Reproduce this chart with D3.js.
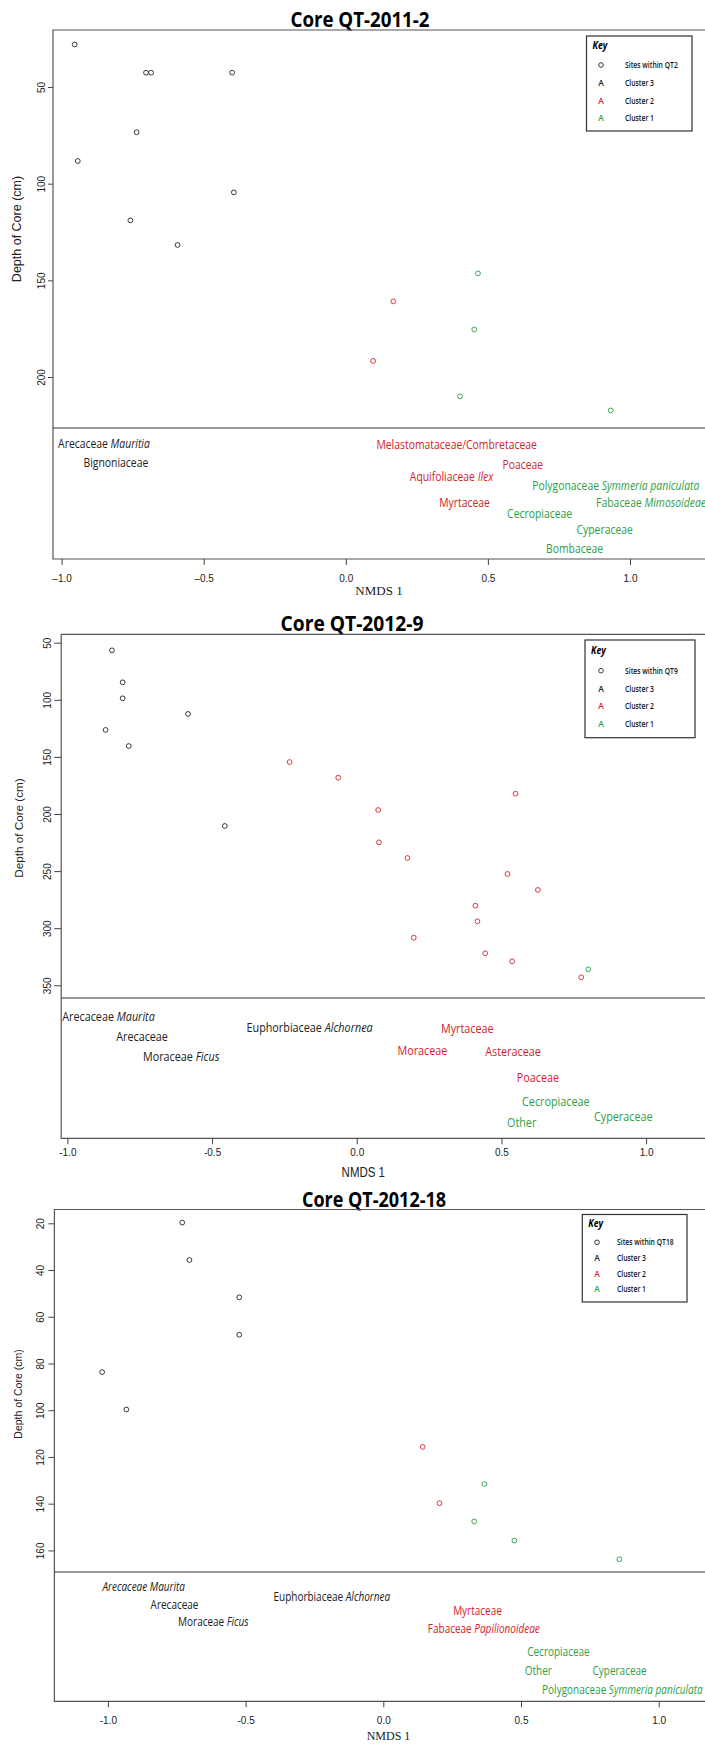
<!DOCTYPE html>
<html>
<head>
<meta charset="utf-8">
<script src="https://cdn.jsdelivr.net/npm/d3@7"></script>
<style>
  body { margin: 0; background: #fff; }
  svg { display: block; }
</style>
</head>
<body>
<script>
'use strict';

// ---- data ----
const coreTitles = ["Core QT-2011-2", "Core QT-2012-9", "Core QT-2012-18"];
const nmdsTicks = [-1, -0.5, 0, 0.5, 1];

// sites: [NMDS 1, depth (cm), cluster]
const qt2Sites = [
  [-0.954, 28.0, 3], [-0.703, 42.6, 3], [-0.685, 42.6, 3], [-0.400, 42.6, 3],
  [-0.736, 73.4, 3], [-0.943, 88.3, 3], [-0.394, 104.5, 3], [-0.758, 119.0, 3],
  [-0.592, 131.7, 3], [0.465, 146.4, 1], [0.167, 160.9, 2], [0.452, 175.4, 1],
  [0.096, 191.7, 2], [0.402, 210.0, 1], [0.932, 217.3, 1]
];
const qt9Sites = [
  [-0.846, 56.7, 3], [-0.809, 84.7, 3], [-0.809, 98.7, 3], [-0.583, 112.4, 3],
  [-0.868, 126.4, 3], [-0.788, 140.5, 3], [-0.456, 210.5, 3],
  [-0.232, 154.5, 2], [-0.064, 168.2, 2], [0.549, 182.2, 2], [0.074, 196.5, 2],
  [0.077, 224.8, 2], [0.175, 238.5, 2], [0.521, 252.5, 2], [0.626, 266.5, 2],
  [0.410, 280.3, 2], [0.417, 294.0, 2], [0.197, 308.3, 2], [0.444, 322.0, 2],
  [0.537, 329.0, 2], [0.800, 336.0, 1], [0.776, 343.0, 2]
];
const qt18Sites = [
  [-0.730, 19.7, 3], [-0.704, 35.7, 3], [-0.523, 51.7, 3], [-0.523, 67.7, 3],
  [-1.021, 83.7, 3], [-0.933, 99.7, 3], [0.143, 115.7, 2], [0.367, 131.6, 1],
  [0.204, 139.8, 2], [0.330, 147.6, 1], [0.476, 155.8, 1], [0.857, 163.8, 1]
];

// taxa: [family, italic genus, NMDS 1, depth position, cluster]
const qt2Taxa = [
  ["Arecaceae ", "Mauritia", -0.851, 234.3, 3],
  ["Bignoniaceae", "", -0.809, 244.2, 3],
  ["Melastomataceae/Combretaceae", "", 0.390, 234.7, 2],
  ["Poaceae", "", 0.623, 245.0, 2],
  ["Aquifoliaceae ", "Ilex", 0.372, 251.6, 2],
  ["Myrtaceae", "", 0.418, 265.0, 2],
  ["Polygonaceae ", "Symmeria paniculata", 0.950, 255.9, 1],
  ["Fabaceae ", "Mimosoideae", 1.074, 265.0, 1],
  ["Cecropiaceae", "", 0.682, 270.5, 1],
  ["Cyperaceae", "", 0.911, 278.7, 1],
  ["Bombaceae", "", 0.805, 288.5, 1]
];
const qt9Taxa = [
  ["Arecaceae  ", "Maurita", -0.858, 376.6, 3],
  ["Arecaceae", "", -0.742, 394.4, 3],
  ["Moraceae ", "Ficus", -0.607, 411.9, 3],
  ["Euphorbiaceae ", "Alchornea", -0.163, 386.8, 3],
  ["Myrtaceae", "", 0.382, 387.7, 2],
  ["Moraceae", "", 0.227, 406.9, 2],
  ["Asteraceae", "", 0.540, 407.8, 2],
  ["Poaceae", "", 0.626, 430.0, 2],
  ["Cecropiaceae", "", 0.688, 451.0, 1],
  ["Cyperaceae", "", 0.921, 464.4, 1],
  ["Other", "", 0.570, 470.0, 1]
];
const qt18Taxa = [
  ["", "Arecaceae Maurita", -0.870, 175.5, 3],
  ["Arecaceae", "", -0.758, 183.0, 3],
  ["Moraceae ", "Ficus", -0.617, 190.5, 3],
  ["Euphorbiaceae ", "Alchornea", -0.187, 179.9, 3],
  ["Myrtaceae", "", 0.342, 185.9, 2],
  ["Fabaceae ", "Papilionoideae", 0.365, 193.4, 2],
  ["Cecropiaceae", "", 0.636, 203.3, 1],
  ["Other", "", 0.563, 211.2, 1],
  ["Cyperaceae", "", 0.858, 211.2, 1],
  ["Polygonaceae ", "Symmeria paniculata", 0.868, 219.6, 1]
];

const qt2DepthTicks = [50, 100, 150, 200];
const qt9DepthTicks = [50, 100, 150, 200, 250, 300, 350];
const qt18DepthTicks = [20, 40, 60, 80, 100, 120, 140, 160];

const qt2Key = ["Sites within QT2", "Cluster 3", "Cluster 2", "Cluster 1"];
const qt9Key = ["Sites within QT9", "Cluster 3", "Cluster 2", "Cluster 1"];
const qt18Key = ["Sites within QT18", "Cluster 3", "Cluster 2", "Cluster 1"];

(function() {

  const SANS = "'Liberation Sans', Arial, sans-serif";
  const SERIF = "'Liberation Serif', 'Times New Roman', serif";
  const HUMAN = "'Open Sans', 'Noto Sans', sans-serif";
  const clusterColor = {1: "#2f9e46", 2: "#d5222b", 3: "#222222"};
  const RIGHT = 720; // frame runs off the right side of the page

  // page layout of each of the three panels
  const layouts = [
    {
      xRange: [61.6, 630], yDomain: [50, 200], yRange: [87, 377],
      left: 53, top: 30, bottom: 559, divider: 428,
      title: {x: 360, y: 27, w: 139},
      yTick: 5, yLab: 8, yFont: 9,
      xFont: {family: SERIF, size: 11, dy: 23, minus: "\u2013"},
      xTitle: {x: 379, y: 595, family: SERIF, size: 13, sx: 1},
      yTitle: {x: 21, y: 229, size: 12.5},
      labelSize: 13,
      key: {x: 586.5, y: 36, w: 105.5, h: 95, keyY: 45.5, rows: [65, 83, 100.5, 117.5], sym: 601, lab: 625}
    },
    {
      xRange: [67.4, 646.1], yDomain: [50, 350], yRange: [642.7, 985.3],
      left: 61.2, top: 634.3, bottom: 1138.3, divider: 998,
      title: {x: 352, y: 631, w: 143},
      yTick: 7, yLab: 10, yFont: 9,
      xFont: {family: SANS, size: 9, dy: 17.5, minus: "-"},
      xTitle: {x: 363.3, y: 1177, family: SANS, size: 14, sx: 0.82},
      yTitle: {x: 23, y: 828, size: 11.7},
      labelSize: 13.5,
      key: {x: 585, y: 640, w: 110, h: 97.7, keyY: 650, rows: [670.7, 688.7, 706.3, 724.3], sym: 601, lab: 625}
    },
    {
      xRange: [107.9, 658.7], yDomain: [20, 160], yRange: [1223.3, 1550.4],
      left: 54.4, top: 1209.5, bottom: 1701.3, divider: 1572,
      title: {x: 374, y: 1207, w: 144},
      yTick: 6, yLab: 10, yFont: 10,
      xFont: {family: SANS, size: 10.5, dy: 22.5, minus: "-"},
      xTitle: {x: 388.5, y: 1740, family: SERIF, size: 12, sx: 1},
      yTitle: {x: 21.5, y: 1394, size: 10.5},
      labelSize: 12.5,
      key: {x: 582.3, y: 1214.5, w: 104.7, h: 87.5, keyY: 1223.5, rows: [1242.3, 1258, 1273.7, 1289.3], sym: 597, lab: 617}
    }
  ];

  window.onload = function() {
    let svg = d3.select('body')
      .append('svg')
      .attr('width', 705)
      .attr('height', 1744);

    drawPanel(svg, layouts[0], coreTitles[0], qt2Sites, qt2Taxa, qt2DepthTicks, qt2Key);
    drawPanel(svg, layouts[1], coreTitles[1], qt9Sites, qt9Taxa, qt9DepthTicks, qt9Key);
    drawPanel(svg, layouts[2], coreTitles[2], qt18Sites, qt18Taxa, qt18DepthTicks, qt18Key);
  };

  // one NMDS vs depth panel with its taxa labels underneath
  function drawPanel(svg, L, title, sites, taxa, depthTicks, keyLabels) {
    let g = svg.append('g');
    let x = d3.scaleLinear().domain([-1, 1]).range(L.xRange);
    let y = d3.scaleLinear().domain(L.yDomain).range(L.yRange);

    // title
    g.append('text')
      .attr('x', L.title.x)
      .attr('y', L.title.y)
      .attr('text-anchor', 'middle')
      .attr('font-family', HUMAN)
      .attr('font-weight', 700)
      .attr('font-size', 21)
      .attr('textLength', L.title.w)
      .attr('lengthAdjust', 'spacingAndGlyphs')
      .text(title);

    // frame (top, left, bottom) and the divider above the taxa
    g.append('path')
      .attr('d', `M${RIGHT},${L.top}H${L.left}V${L.bottom}H${RIGHT}`)
      .attr('fill', 'none')
      .attr('stroke', '#555')
      .attr('stroke-width', 1.2);

    g.append('line')
      .attr('x1', L.left).attr('x2', RIGHT)
      .attr('y1', L.divider).attr('y2', L.divider)
      .attr('stroke', '#333')
      .attr('stroke-width', 1.2);

    // depth axis, labels turned like R does
    let yAxis = d3.axisLeft(y).tickValues(depthTicks).tickSize(L.yTick);
    let ya = g.append('g')
      .attr('transform', `translate(${L.left},0)`)
      .attr('font-family', SANS)
      .attr('font-size', L.yFont)
      .call(yAxis);
    ya.select('.domain').remove();
    ya.selectAll('line').attr('stroke', '#444');
    ya.selectAll('text')
      .attr('x', 0)
      .attr('dy', 0)
      .attr('fill', '#222')
      .attr('text-anchor', 'middle')
      .attr('transform', `translate(${-L.yLab},0) rotate(-90)`);

    // NMDS axis
    let fmt = d3.format(".1f");
    let xAxis = d3.axisBottom(x)
      .tickValues(nmdsTicks)
      .tickSize(6)
      .tickFormat(d => fmt(d).replace("\u2212", L.xFont.minus).replace("-", L.xFont.minus));
    let xa = g.append('g')
      .attr('transform', `translate(0,${L.bottom})`)
      .attr('font-family', L.xFont.family)
      .attr('font-size', L.xFont.size)
      .call(xAxis);
    xa.select('.domain').remove();
    xa.selectAll('line').attr('stroke', '#444');
    xa.selectAll('text')
      .attr('y', L.xFont.dy)
      .attr('dy', 0)
      .attr('fill', '#222');

    // axis titles
    g.append('text')
      .attr('transform', `translate(${L.xTitle.x},${L.xTitle.y}) scale(${L.xTitle.sx},1)`)
      .attr('text-anchor', 'middle')
      .attr('font-family', L.xTitle.family)
      .attr('font-size', L.xTitle.size)
      .attr('fill', '#222')
      .text('NMDS 1');

    g.append('text')
      .attr('transform', `translate(${L.yTitle.x},${L.yTitle.y}) rotate(-90)`)
      .attr('text-anchor', 'middle')
      .attr('font-family', SANS)
      .attr('font-size', L.yTitle.size)
      .attr('fill', '#222')
      .text('Depth of Core (cm)');

    // sites
    g.selectAll('.site')
      .data(sites)
      .enter()
      .append('circle')
        .attr('class', 'site')
        .attr('cx', d => x(d[0]))
        .attr('cy', d => y(d[1]))
        .attr('r', 2.4)
        .attr('fill', 'none')
        .attr('stroke', d => clusterColor[d[2]])
        .attr('stroke-width', 0.9);

    // taxa labels, centred on their NMDS score
    let labels = g.selectAll('.taxon')
      .data(taxa)
      .enter()
      .append('text')
        .attr('class', 'taxon')
        .attr('transform', d => `translate(${x(d[2])},${y(d[3])}) scale(0.8,1)`)
        .attr('dy', '0.36em')
        .attr('text-anchor', 'middle')
        .attr('font-family', HUMAN)
        .attr('font-size', L.labelSize)
        .attr('fill', d => clusterColor[d[4]]);
    labels.append('tspan').text(d => d[0]);
    labels.append('tspan').attr('font-style', 'italic').text(d => d[1]);

    drawKey(g, L.key, keyLabels);
  }

  // the small "Key" box in the top right corner
  function drawKey(g, K, keyLabels) {
    g.append('rect')
      .attr('x', K.x).attr('y', K.y)
      .attr('width', K.w).attr('height', K.h)
      .attr('fill', '#fff')
      .attr('stroke', '#333')
      .attr('stroke-width', 1.2);

    g.append('text')
      .attr('transform', `translate(${K.x + 6},${K.keyY}) scale(0.8,1)`)
      .attr('dy', '0.36em')
      .attr('font-family', HUMAN)
      .attr('font-weight', 700)
      .attr('font-style', 'italic')
      .attr('font-size', 11)
      .text('Key');

    let symColors = [null, clusterColor[3], clusterColor[2], clusterColor[1]];
    keyLabels.forEach((lab, i) => {
      if (i == 0) {
        g.append('circle')
          .attr('cx', K.sym).attr('cy', K.rows[i])
          .attr('r', 2.3)
          .attr('fill', 'none')
          .attr('stroke', '#222')
          .attr('stroke-width', 0.9);
      } else {
        g.append('text')
          .attr('x', K.sym).attr('y', K.rows[i])
          .attr('dy', '0.36em')
          .attr('text-anchor', 'middle')
          .attr('font-family', HUMAN)
          .attr('font-weight', 600)
          .attr('font-size', 8.5)
          .attr('fill', symColors[i])
          .text('A');
      }
      g.append('text')
        .attr('transform', `translate(${K.lab},${K.rows[i]}) scale(0.8,1)`)
        .attr('dy', '0.36em')
        .attr('font-family', HUMAN)
        .attr('font-weight', 600)
        .attr('font-size', 8.5)
        .attr('fill', '#111')
        .text(lab);
    });
  }
})();
</script>
</body>
</html>
